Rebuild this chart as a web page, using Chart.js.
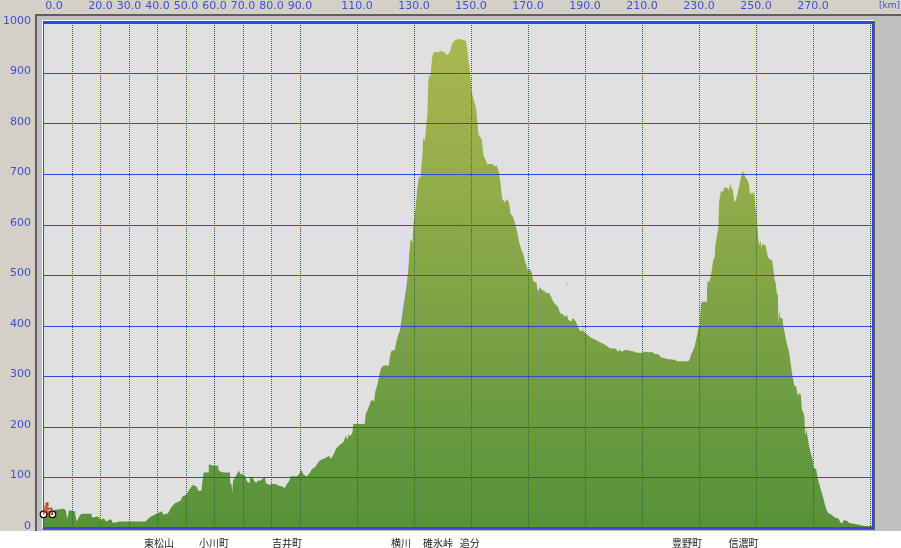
<!DOCTYPE html>
<html>
<head>
<meta charset="utf-8">
<title>Elevation profile</title>
<script src="https://cdn.jsdelivr.net/npm/chart.js@4"></script>
<style>
  html, body { margin: 0; padding: 0; background: #fff; }
  canvas { display: block; }
</style>
</head>
<body>
<canvas id="profileChart" width="901" height="548"></canvas>
<script>
// distance along the route, km
const distanceKm = [
  0, 2.5, 4.3, 7.1, 7.8, 8.3, 9, 11, 11.6, 12.7, 13.3, 16.8, 17.1, 19.2, 20.1, 20.9, 22.1, 23.6, 24.4, 26.8,
  35.9, 36.1, 37.7, 39.7, 41.4, 42.2, 43.7, 44.7, 46.1, 48.1, 48.8, 50.2, 51.4, 52.3, 53.7, 54.3, 55.4, 55.8, 56.2, 57.9, 58,
  59.2, 61.2, 61.5, 62.4, 63.3, 65.4, 65.5, 66, 66.2, 66.5, 67.5, 68.5, 69.1, 70, 70.75, 71.3, 72.2, 72.4, 73.2, 73.9, 74.7,
  75, 76.2, 77.7, 78, 79.2, 80.1, 81.5, 82.3, 83.7, 84.7, 85.3, 86.2, 86.9, 88.8, 89.6, 90.6, 91.1, 92.3, 93.5, 94.2,
  95.2, 96, 97, 99.1, 100.2, 100.8, 101.9, 102.6, 104, 105.2, 106.1, 106.6, 107.1, 107.5, 108.4, 108.7, 112.7, 113.1, 113.9, 114.7,
  115.3, 116, 116.4, 117.2, 118, 118.6, 119.4, 121.2, 121.5, 122.1, 123.3, 123.6, 124.4, 125, 125.4, 126.2, 126.8, 127.4, 128, 128.3,
  128.8, 129.5, 129.7, 130, 130.6, 131.1, 131.8, 132.3, 132.6, 133, 133.2, 133.8, 134.4, 134.7, 135, 135.3, 135.8, 136.1, 136.5, 137.1,
  138.5, 139.6, 140.8, 141.8, 142.6, 143.4, 144.1, 145.7, 148.2, 148.7, 149.1, 149.6, 150.2, 151, 151.7, 152.2, 152.6, 153.7, 154.4, 155.2,
  155.7, 156, 157.5, 158.1, 159, 159.8, 160.4, 160.9, 161.9, 162.5, 163.3, 163.9, 164.8, 165.4, 166.2, 166.9, 167.6, 168.3, 169, 169.4,
  170, 170.6, 171.3, 171.8, 173, 173.3, 173.8, 174.1, 174.8, 175.9, 176.5, 177.4, 178.2, 178.8, 179.4, 180.6, 180.9, 181.4, 182.3, 182.7,
  183.8, 184.1, 185.2, 185.6, 186.4, 187, 187.9, 188.4, 189.1, 189.2, 189.4, 189.7, 191.1, 192.3, 194, 195.2, 196.4, 197.5, 198.7, 200.8,
  201.6, 202.2, 202.8, 204.3, 205.7, 207.5, 208.1, 209.8, 211, 212.7, 213.5, 214.3, 215.7, 216.6, 218, 219.2, 221.5, 222.3, 226.2, 226.8,
  227.2, 227.7, 228.4, 228.9, 229.4, 230, 230.3, 230.7, 231.1, 232.7, 232.8, 233, 233.5, 234.1, 234.4, 235, 235.5, 235.7, 236.4, 236.8,
  237.1, 237.7, 238.3, 238.9, 240, 240.5, 240.9, 241.1, 241.8, 242.3, 242.7, 243.2, 243.8, 244.4, 244.8, 245.3, 245.8, 246.2, 246.9, 247.5,
  247.9, 248.6, 249, 249.4, 249.7, 250.4, 250.8, 251.1, 251.5, 252, 252.3, 253.4, 253.7, 254.3, 254.9, 255.6, 256.1, 256.5, 257, 257.3,
  257.7, 257.8, 258.2, 258.5, 259.3, 259.6, 260, 260.5, 261, 261.6, 262.1, 262.7, 263.1, 263.4, 264.1, 264.5, 264.8, 265.2, 265.7, 266.1,
  266.6, 267, 267.2, 267.5, 268, 268.6, 269.3, 269.9, 270.3, 271.1, 271.7, 272.7, 273.4, 274.1, 274.8, 275.4, 276.5, 277.7, 278.9, 279.7,
  280.3, 280.6, 281.8, 282.7, 284.7, 286.7, 287.9, 290.3, 291
];
// elevation at each of those distances, m
const elevationM = [
  33, 34, 36, 38, 35, 18, 35, 33, 13, 25, 28, 28, 21, 23, 15, 20, 13, 18, 10, 13,
  13, 15, 23, 28, 33, 26, 29, 40, 49, 54, 63, 66, 78, 85, 82, 74, 74, 94, 110, 110, 126,
  124, 124, 114, 111, 110, 110, 90, 86, 69, 93, 103, 114, 107, 106, 103, 93, 89, 99, 102, 93, 89,
  93, 94, 102, 89, 85, 87, 87, 84, 82, 79, 86, 93, 103, 102, 106, 115, 107, 102, 110, 117,
  120, 126, 134, 139, 143, 137, 147, 157, 165, 170, 183, 175, 186, 181, 189, 206, 206, 226, 236, 249,
  254, 250, 270, 285, 308, 318, 322, 322, 338, 351, 353, 365, 381, 390, 403, 437, 458, 480, 513, 540,
  572, 566, 592, 612, 635, 670, 698, 691, 718, 741, 772, 767, 804, 817, 883, 898, 893, 916, 936, 943,
  942, 945, 941, 936, 943, 959, 965, 969, 965, 949, 926, 906, 866, 846, 833, 807, 779, 771, 737, 728,
  720, 721, 721, 717, 718, 705, 681, 652, 645, 652, 645, 623, 615, 605, 586, 566, 553, 543, 526, 523,
  508, 514, 506, 489, 485, 473, 469, 478, 472, 469, 465, 466, 457, 449, 444, 437, 431, 425, 424, 419,
  421, 412, 409, 416, 412, 406, 394, 390, 390, 421, 390, 388, 381, 376, 372, 368, 365, 361, 356, 355,
  349, 353, 349, 353, 351, 349, 347, 347, 349, 348, 349, 345, 344, 338, 336, 334, 333, 330, 330, 334,
  343, 349, 358, 371, 384, 401, 414, 444, 448, 448, 470, 490, 486, 497, 508, 531, 535, 559, 582, 597,
  648, 668, 665, 674, 674, 668, 683, 676, 670, 650, 645, 655, 670, 685, 697, 707, 703, 695, 690, 681,
  660, 665, 660, 668, 640, 601, 572, 559, 569, 554, 563, 559, 549, 535, 531, 531, 513, 493, 483, 464,
  462, 405, 431, 416, 416, 399, 388, 373, 361, 348, 328, 304, 292, 282, 280, 266, 262, 268, 264, 234,
  229, 219, 186, 200, 183, 163, 147, 134, 119, 117, 97, 77, 64, 48, 35, 29, 26, 21, 19, 11,
  9, 15, 15, 10, 8, 6, 4, 4, 3
];
// the lone speck above the slope
const strayKm = [183.7];
const strayM = [484];

const gridKm = [0, 10, 20, 30, 40, 50, 60, 70, 80, 90, 110, 130, 150, 170, 190, 210, 230, 250, 270, 290];
const labelledKm = [20, 30, 40, 50, 60, 70, 80, 90, 110, 130, 150, 170, 190, 210, 230, 250, 270];
const townKm = [40.5, 59.8, 85.4, 125.4, 138.4, 149.6, 225.8, 245.6];
const townNames = ['東松山', '小川町', '吉井町', '横川', '碓氷峠', '追分', '豊野町', '信濃町'];
const riderElevation = 27;

const blue = '#2f48e0';
const labelBlue = '#3a50d8';
const labelFont = '11px "DejaVu Sans"';

// window frame behind the plot, axis text that sits off its tick, and the bike
const framePlugin = {
  id: 'frame',
  beforeDraw(chart) {
    const { ctx, chartArea: a } = chart;
    ctx.save();
    ctx.fillStyle = '#fff';
    ctx.fillRect(0, 0, 901, 548);
    ctx.fillStyle = '#d4d0c8';
    ctx.fillRect(0, 0, 901, 531);
    ctx.fillStyle = '#5f5f5f';
    ctx.fillRect(35, 14, 866, 2);
    ctx.fillRect(35, 14, 2, 517);
    ctx.fillStyle = '#c0c0c0';
    ctx.fillRect(37, 16, 864, 515);
    ctx.fillStyle = '#fff';
    ctx.fillRect(42, 20, 832, 1);
    ctx.fillRect(42, 20, 1, 508);
    ctx.fillStyle = '#5f5f5f';
    ctx.fillRect(874, 21, 1, 509);
    ctx.fillRect(43, 529, 832, 1);
    ctx.fillStyle = '#e0e0e0';
    ctx.fillRect(a.left, a.top, a.right - a.left, a.bottom - a.top);
    ctx.restore();
  },
  afterDraw(chart) {
    const { ctx, scales } = chart;
    ctx.save();
    // frame round the plot
    ctx.fillStyle = blue;
    ctx.fillRect(43, 21, 831, 2);
    ctx.fillRect(872, 21, 2, 508);
    ctx.fillRect(43, 527, 831, 2);
    ctx.fillRect(43, 21, 1, 508);

    // y labels sit a little above their lines in the original
    ctx.font = labelFont;
    ctx.fillStyle = labelBlue;
    ctx.textAlign = 'right';
    ctx.textBaseline = 'middle';
    scales.y.ticks.forEach(t => {
      ctx.fillText(String(t.value), 31, scales.y.getPixelForValue(t.value) - 2);
    });
    ctx.textAlign = 'center';
    ctx.fillText('0.0', 54, 6);
    ctx.textAlign = 'right';
    ctx.font = '9px "DejaVu Sans"';
    ctx.fillText('[km]', 900, 6);

    // rider
    const bx = scales.x.getPixelForValue(0);
    const by = scales.y.getPixelForValue(riderElevation);
    ctx.lineWidth = 1.2;
    ctx.fillStyle = '#fff';
    ctx.strokeStyle = '#000';
    [0, 9].forEach(dx => {
      ctx.beginPath();
      ctx.arc(bx + dx, by, 3.3, 0, Math.PI * 2);
      ctx.fill();
      ctx.stroke();
    });
    ctx.strokeStyle = '#e01818';
    ctx.lineWidth = 1.4;
    ctx.beginPath();
    ctx.moveTo(bx, by);
    ctx.lineTo(bx + 2, by - 5);
    ctx.lineTo(bx + 8, by - 6);
    ctx.lineTo(bx + 9, by);
    ctx.lineTo(bx + 4, by - 1);
    ctx.lineTo(bx + 2, by - 5);
    ctx.stroke();
    ctx.fillStyle = '#b5652a';
    ctx.fillRect(bx + 1, by - 9, 4, 5);
    ctx.fillStyle = '#d03020';
    ctx.fillRect(bx + 2, by - 12, 3, 3);
    ctx.restore();
  }
};

const points = distanceKm.map((km, i) => ({ x: km, y: elevationM[i] }));

new Chart(document.getElementById('profileChart').getContext('2d'), {
  type: 'line',
  data: {
    datasets: [
      {
        data: points,
        borderWidth: 0,
        pointRadius: 0,
        tension: 0,
        fill: 'origin',
        backgroundColor: ctx => {
          const area = ctx.chart.chartArea;
          if (!area) return '#7fa545';
          const g = ctx.chart.ctx.createLinearGradient(0, area.top, 0, area.bottom);
          g.addColorStop(0, '#acb851');
          g.addColorStop(0.5, '#84a646');
          g.addColorStop(1, '#56923a');
          return g;
        }
      },
      {
        data: strayKm.map((km, i) => ({ x: km, y: strayM[i] })),
        showLine: false,
        pointRadius: 0.7,
        pointBorderWidth: 0,
        pointBackgroundColor: '#7fa545'
      }
    ]
  },
  options: {
    responsive: false,
    animation: false,
    events: [],
    layout: { padding: { right: 28 } },
    plugins: { legend: { display: false }, tooltip: { enabled: false } },
    scales: {
      x: {
        type: 'linear',
        position: 'top',
        min: 0,
        max: 291.05,
        afterBuildTicks: scale => { scale.ticks = gridKm.map(v => ({ value: v })); },
        afterFit: scale => { scale.height = 23; },
        grid: { color: blue, lineWidth: 1, z: 1, drawTicks: false },
        border: { display: false, dash: [1, 1] },
        ticks: {
          color: labelBlue,
          font: { family: 'DejaVu Sans', size: 11 },
          padding: 10,
          maxRotation: 0,
          autoSkip: false,
          callback: v => labelledKm.includes(v) ? v.toFixed(1) : ''
        }
      },
      town: {
        axis: 'x',
        type: 'linear',
        position: 'bottom',
        min: 0,
        max: 291.05,
        afterBuildTicks: scale => { scale.ticks = townKm.map(v => ({ value: v })); },
        afterFit: scale => { scale.height = 20; },
        grid: { display: false, drawTicks: false },
        border: { display: false },
        ticks: {
          color: '#222',
          font: { family: 'Noto Sans CJK JP', size: 10 },
          padding: 9,
          maxRotation: 0,
          autoSkip: false,
          callback: v => townNames[townKm.indexOf(v)]
        }
      },
      y: {
        min: 0,
        max: 1000,
        afterFit: scale => { scale.width = 43.5; },
        grid: { color: blue, lineWidth: 1, z: 1, drawTicks: false },
        border: { display: false },
        ticks: { display: false, stepSize: 100 }
      }
    }
  },
  plugins: [framePlugin]
});
</script>
</body>
</html>
